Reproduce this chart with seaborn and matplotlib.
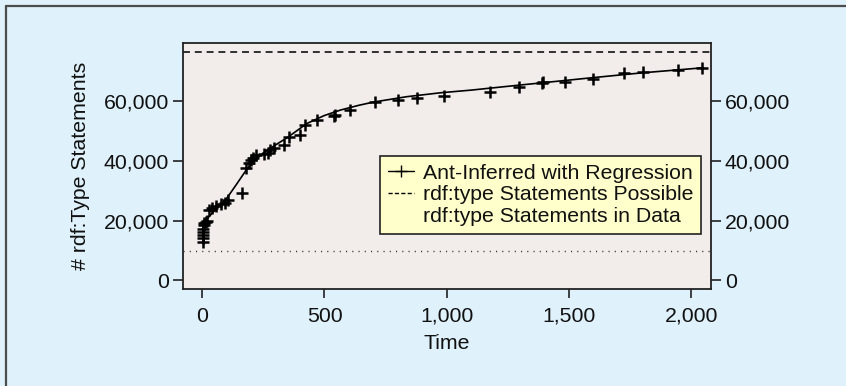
import matplotlib
matplotlib.use("Agg")
import matplotlib.pyplot as plt
import seaborn as sns
import pandas as pd
from matplotlib.lines import Line2D
from matplotlib.ticker import FuncFormatter

# ---- data ----
time_obs = [1, 2, 3, 3, 4, 6, 9, 14, 20, 27, 41, 55, 75, 95, 106, 164, 180, 191,
            200, 207, 218, 252, 268, 278, 292, 333, 353, 398, 421, 469, 540, 545,
            603, 708, 799, 878, 987, 1178, 1294, 1390, 1395, 1485, 1599, 1724,
            1803, 1945, 2045]
stmts_obs = [13000, 14100, 15200, 16100, 17100, 18600, 19300, 19500, 20000, 23600,
             24400, 25000, 25500, 25800, 27000, 29200, 37700, 39300, 40400, 40900,
             42000, 42300, 42800, 43700, 44300, 45400, 48200, 48700, 52100, 53800,
             55100, 55600, 57100, 59900, 60500, 61300, 61800, 63300, 65000, 66100,
             66400, 66600, 67500, 69400, 70000, 70600, 71100]

reg_time = [0, 10, 27, 60, 95, 140, 180, 215, 250, 290, 350, 428, 500, 565, 640,
            701, 837, 974, 1100, 1300, 1600, 1800, 2050]
reg_stmts = [17000, 19500, 21300, 24300, 26900, 32200, 37000, 40300, 42700, 44900,
             48000, 52600, 55300, 57100, 58700, 59800, 61600, 62900, 63800, 65500,
             68000, 69600, 71300]

possible_level = 76700
in_data_level = 10000

x_ticks = [0, 500, 1000, 1500, 2000]
y_ticks = [0, 20000, 40000, 60000]
legend_labels = ["Ant-Inferred with Regression",
                 "rdf:type Statements Possible",
                 "rdf:type Statements in Data"]
x_label = "Time"
y_label = "# rdf:Type Statements"

# ---- style ----
sns.set_style("ticks")
plt.rcParams['font.family'] = ['Liberation Sans', 'DejaVu Sans']
plt.rcParams['lines.scale_dashes'] = False

W, H = 846, 386
FS = 15.3
fig = plt.figure(figsize=(W / 100, H / 100), dpi=100, facecolor='#DFF1FB')
ax = fig.add_axes([182.7 / W, 1 - 289 / H, (711 - 182.7) / W, (289 - 42.7) / H])
ax.set_facecolor('#F2EDEA')

pts = pd.DataFrame({'Time': time_obs, 'Statements': stmts_obs})
reg = pd.DataFrame({'Time': reg_time, 'Statements': reg_stmts})

sns.lineplot(data=reg, x='Time', y='Statements', color='black', linewidth=1.2,
             estimator=None, ax=ax, zorder=2)
sns.scatterplot(data=pts, x='Time', y='Statements', marker='+', s=85,
                color='black', linewidth=1.8, ax=ax, zorder=3)
ax.axhline(possible_level, color='#222222', lw=1.3, linestyle=(0, (5, 3.5)), zorder=1)
ax.axhline(in_data_level, color='#333333', lw=1.0, linestyle=(0, (0.8, 3.7)), zorder=1)

ax.set_xlim(-80, 2081)
ax.set_ylim(-2900, 79700)
ax.set_xticks(x_ticks)
ax.set_yticks(y_ticks)
fmt = FuncFormatter(lambda v, p: f"{v:,.0f}")
ax.xaxis.set_major_formatter(fmt)
ax.yaxis.set_major_formatter(fmt)
ax.tick_params(axis='x', direction='out', length=6.8, width=1.2,
               labelsize=FS, pad=6, color='#222222', labelcolor='#111111')
ax.tick_params(axis='y', direction='out', length=7, width=1.2,
               labelsize=FS, pad=3, color='#222222', labelcolor='#111111',
               right=True, labelright=True)
for sp in ax.spines.values():
    sp.set_visible(True)
    sp.set_linewidth(1.3)
    sp.set_color('#222222')

ax.set_xlabel(x_label, fontsize=FS, labelpad=6, color='#111111')
ax.set_ylabel(y_label, fontsize=FS, labelpad=9.5, color='#111111')

handles = [
    Line2D([], [], color='black', lw=1.0, marker='+', markersize=8, mew=1.0),
    Line2D([], [], color='black', lw=1.0, linestyle=(0, (3, 1.6))),
    Line2D([], [], color='none'),
]
leg = ax.legend(handles, legend_labels, loc='upper right',
                bbox_to_anchor=(701 / W, 1 - 155.7 / H), bbox_transform=fig.transFigure,
                frameon=True, fancybox=False, shadow=False, facecolor='#FFFFCC',
                edgecolor='#222222', framealpha=1, fontsize=FS, handlelength=1.2,
                handletextpad=0.42, borderpad=0.37, labelspacing=0.13, borderaxespad=0)
leg.get_frame().set_linewidth(1.2)
for t in leg.get_texts():
    t.set_color('#111111')

# figure border (left and top only)
fig.add_artist(Line2D([5.5 / W, 5.5 / W], [0, 1 - 5.5 / H], transform=fig.transFigure,
                      color='#4d4d4d', lw=1.6))
fig.add_artist(Line2D([5.5 / W, 1], [1 - 5.5 / H, 1 - 5.5 / H], transform=fig.transFigure,
                      color='#4d4d4d', lw=1.6))

fig.savefig('out.png', dpi=100, facecolor=fig.get_facecolor())
